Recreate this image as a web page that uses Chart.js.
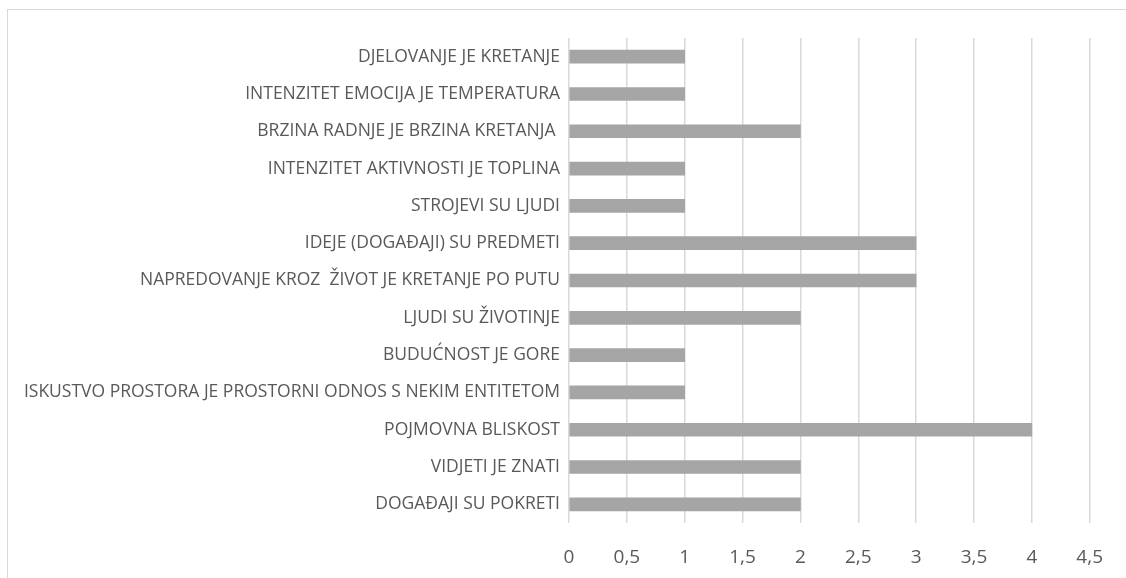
<!DOCTYPE html>
<html>
<head>
<meta charset="utf-8">
<script src="https://cdn.jsdelivr.net/npm/chart.js@4"></script>
<style>
  html, body { margin: 0; padding: 0; background: #fff; overflow: hidden; }
  #frame { position: absolute; left: 7px; top: 9px; width: 1300px; height: 800px; border: 1px solid #d9d9d9; }
  #wrap { position: absolute; left: 0; top: 0; width: 1126px; height: 578px; }
</style>
</head>
<body>
<div id="frame"></div>
<div id="wrap"><canvas id="barChart"></canvas></div>
<script>
// kategorije metafora, odozgo prema dolje
const categories = [
  'DJELOVANJE JE KRETANJE',
  'INTENZITET EMOCIJA JE TEMPERATURA',
  'BRZINA RADNJE JE BRZINA KRETANJA ',
  'INTENZITET AKTIVNOSTI JE TOPLINA',
  'STROJEVI SU LJUDI',
  'IDEJE (DOGAĐAJI) SU PREDMETI',
  'NAPREDOVANJE KROZ  ŽIVOT JE KRETANJE PO PUTU',
  'LJUDI SU ŽIVOTINJE',
  'BUDUĆNOST JE GORE',
  'ISKUSTVO PROSTORA JE PROSTORNI ODNOS S NEKIM ENTITETOM',
  'POJMOVNA BLISKOST',
  'VIDJETI JE ZNATI',
  'DOGAĐAJI SU POKRETI'
];
const counts = [1, 1, 2, 1, 1, 3, 3, 2, 1, 1, 4, 2, 2];
const xMin = 0;
const xMax = 4.5;
const xStep = 0.5;

const ctx = document.getElementById('barChart').getContext('2d');
new Chart(ctx, {
  type: 'bar',
  data: {
    labels: categories,
    datasets: [{
      data: counts,
      backgroundColor: '#a5a5a5',
      borderWidth: 0,
      barThickness: 13
    }]
  },
  options: {
    indexAxis: 'y',
    responsive: true,
    maintainAspectRatio: false,
    animation: false,
    layout: { padding: { left: 14, top: 38, right: 35, bottom: 0 } },
    plugins: {
      legend: { display: false },
      tooltip: { enabled: false }
    },
    scales: {
      x: {
        min: xMin,
        max: xMax,
        border: { display: false },
        grid: { color: '#d9d9d9', lineWidth: 1.5, drawTicks: false },
        ticks: {
          stepSize: xStep,
          padding: 23,
          color: '#595959',
          font: { family: "'Open Sans', sans-serif", size: 19 },
          callback: v => String(v).replace('.', ',')
        },
        afterFit: scale => { scale.height = 55; }
      },
      y: {
        border: { display: false },
        grid: { display: false, drawTicks: false },
        ticks: {
          padding: 9,
          autoSkip: false,
          color: '#595959',
          font: { family: "'Open Sans', sans-serif", size: 17.5 }
        },
        afterFit: scale => { scale.width = 555; }
      }
    }
  }
});
</script>
</body>
</html>
